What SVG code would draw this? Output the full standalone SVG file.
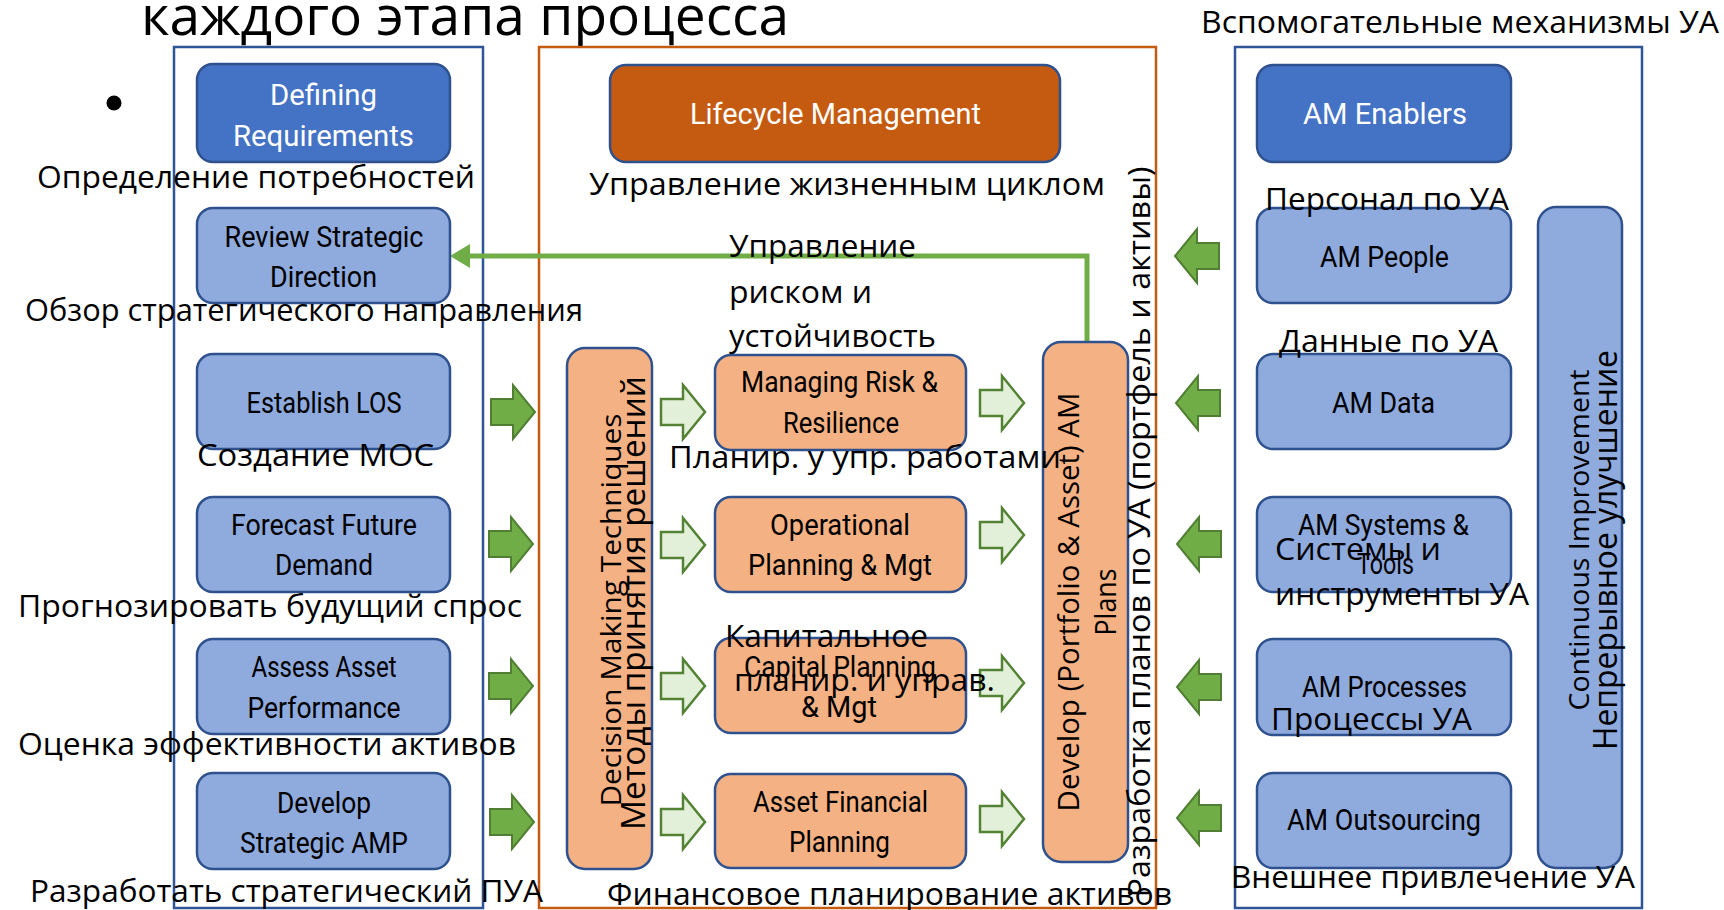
<svg xmlns="http://www.w3.org/2000/svg" xmlns:xlink="http://www.w3.org/1999/xlink" width="1724" height="910" viewBox="0 0 1724 910">
<style>
.bg{fill:#ffffff}
.frame-b{fill:none;stroke:#2F5597;stroke-width:2.5}
.frame-o{fill:none;stroke:#C55A11;stroke-width:2.5}
.bd{fill:#4472C4;stroke:#2F528F;stroke-width:2.5}
.bl{fill:#8FAADC;stroke:#2F528F;stroke-width:2.5}
.bo{fill:#F4B183;stroke:#2F528F;stroke-width:2.5}
.bc{fill:#C55A11;stroke:#2F528F;stroke-width:2.5}
.en{font-family:"Liberation Sans Narrow","Roboto","Liberation Sans",sans-serif;font-size:30px;fill:#000;text-anchor:middle}
.w{fill:#fff}
.ru{font-family:"Open Sans","Noto Sans",sans-serif;font-size:31px;fill:#000}
.title{font-family:"Open Sans","Noto Sans",sans-serif;font-size:54px;fill:#000}
.vt{font-family:"Open Sans","Noto Sans",sans-serif;fill:#000;text-anchor:middle}
.ad{fill:#70AD47;stroke:#507E32;stroke-width:2}
.al{fill:#E2F0D9;stroke:#548235;stroke-width:2.5}
.fb{fill:none;stroke:#70AD47;stroke-width:5}
</style>
<defs>
<path id="ra" d="M0,-13 H22 V-27 L44,0 L22,27 V13 H0 Z"/>
<path id="la" d="M44,-13 H22 V-27 L0,0 L22,27 V13 H44 Z"/>
<marker id="mh" markerUnits="userSpaceOnUse" markerWidth="20" markerHeight="24" viewBox="0 0 20 24" refX="0" refY="12" orient="auto">
<path d="M0,0 L20,12 L0,24 Z" fill="#70AD47"/>
</marker>
</defs>
<rect class="bg" x="0" y="0" width="1724" height="910"/>

<text class="title" x="141" y="35" textLength="648" lengthAdjust="spacingAndGlyphs">каждого этапа процесса</text>
<circle cx="114" cy="103" r="7.5" fill="#000"/>

<g id="frames">
<rect class="frame-b" x="174" y="47" width="309" height="861"/>
<rect class="frame-o" x="539" y="47" width="617" height="861"/>
<rect class="frame-b" x="1235" y="47" width="407" height="861"/>
</g>

<g id="connectors">
<path class="fb" d="M1087,342 V256 H470" marker-end="url(#mh)"/>
<use href="#ra" x="491" y="412" class="ad"/>
<use href="#ra" x="489" y="544" class="ad"/>
<use href="#ra" x="489" y="686" class="ad"/>
<use href="#ra" x="490" y="822" class="ad"/>
<use href="#ra" x="661" y="412" class="al"/>
<use href="#ra" x="661" y="545" class="al"/>
<use href="#ra" x="661" y="686" class="al"/>
<use href="#ra" x="661" y="822" class="al"/>
<use href="#ra" x="980" y="403" class="al"/>
<use href="#ra" x="980" y="535" class="al"/>
<use href="#ra" x="980" y="683" class="al"/>
<use href="#ra" x="980" y="819" class="al"/>
<use href="#la" x="1175" y="256" class="ad"/>
<use href="#la" x="1176" y="403" class="ad"/>
<use href="#la" x="1177" y="544" class="ad"/>
<use href="#la" x="1177" y="687" class="ad"/>
<use href="#la" x="1177" y="818" class="ad"/>
</g>

<g id="n-defining">
<rect class="bd" x="197" y="64" width="253" height="98" rx="16"/>
<text class="en w" x="323.5" y="105" textLength="107" lengthAdjust="spacingAndGlyphs">Defining</text>
<text class="en w" x="323.5" y="146" textLength="181" lengthAdjust="spacingAndGlyphs">Requirements</text>
<text class="ru" x="37" y="188" textLength="438" lengthAdjust="spacingAndGlyphs">Определение потребностей</text>
</g>
<g id="n-review">
<rect class="bl" x="197" y="208" width="253" height="95" rx="16"/>
<text class="en" x="324" y="247" textLength="199" lengthAdjust="spacingAndGlyphs">Review Strategic</text>
<text class="en" x="323.5" y="287" textLength="107" lengthAdjust="spacingAndGlyphs">Direction</text>
<text class="ru" x="25" y="321" textLength="558" lengthAdjust="spacingAndGlyphs">Обзор стратегического направления</text>
</g>
<g id="n-los">
<rect class="bl" x="197" y="354" width="253" height="95" rx="16"/>
<text class="en" x="324" y="413" textLength="155" lengthAdjust="spacingAndGlyphs">Establish LOS</text>
<text class="ru" x="197" y="466" textLength="237" lengthAdjust="spacingAndGlyphs">Создание МОС</text>
</g>
<g id="n-forecast">
<rect class="bl" x="197" y="497" width="253" height="95" rx="16"/>
<text class="en" x="324" y="535" textLength="186" lengthAdjust="spacingAndGlyphs">Forecast Future</text>
<text class="en" x="324" y="575" textLength="98" lengthAdjust="spacingAndGlyphs">Demand</text>
<text class="ru" x="18" y="617" textLength="504" lengthAdjust="spacingAndGlyphs">Прогнозировать будущий спрос</text>
</g>
<g id="n-assess">
<rect class="bl" x="197" y="639" width="253" height="95" rx="16"/>
<text class="en" x="324" y="677" textLength="145" lengthAdjust="spacingAndGlyphs">Assess Asset</text>
<text class="en" x="324" y="718" textLength="153" lengthAdjust="spacingAndGlyphs">Performance</text>
<text class="ru" x="18" y="755" textLength="498" lengthAdjust="spacingAndGlyphs">Оценка эффективности активов</text>
</g>
<g id="n-amp">
<rect class="bl" x="197" y="773" width="253" height="96" rx="16"/>
<text class="en" x="324" y="813" textLength="94" lengthAdjust="spacingAndGlyphs">Develop</text>
<text class="en" x="324" y="853" textLength="168" lengthAdjust="spacingAndGlyphs">Strategic AMP</text>
<text class="ru" x="30" y="902" textLength="513" lengthAdjust="spacingAndGlyphs">Разработать стратегический ПУА</text>
</g>

<g id="n-lifecycle">
<rect class="bc" x="610" y="65" width="450" height="97" rx="16"/>
<text class="en w" x="835.5" y="124" textLength="291" lengthAdjust="spacingAndGlyphs">Lifecycle Management</text>
<text class="ru" x="589" y="195" textLength="516" lengthAdjust="spacingAndGlyphs">Управление жизненным циклом</text>
</g>
<g id="n-decision">
<rect class="bo" x="567" y="348" width="85" height="521" rx="18"/>
<text class="vt" x="621" y="610" font-size="28" transform="rotate(-90 621 610)" textLength="393" lengthAdjust="spacingAndGlyphs">Decision Making Techniques</text>
<text class="vt" x="645" y="603" font-size="33" transform="rotate(-90 645 603)" textLength="454" lengthAdjust="spacingAndGlyphs">Методы принятия решений</text>
</g>
<g id="n-develop-plans">
<rect class="bo" x="1043" y="342" width="85" height="520" rx="18"/>
<text class="vt" x="1079" y="602" font-size="29" transform="rotate(-90 1079 602)" textLength="419" lengthAdjust="spacingAndGlyphs">Develop (Portfolio &amp; Asset) AM</text>
<text class="vt" x="1116" y="602" font-size="29" transform="rotate(-90 1116 602)" textLength="67" lengthAdjust="spacingAndGlyphs">Plans</text>
<text class="vt" x="1150" y="532" font-size="31" transform="rotate(-90 1150 532)" textLength="731" lengthAdjust="spacingAndGlyphs">Разработка планов по УА (портфель и активы)</text>
</g>
<g id="n-risk">
<rect class="bo" x="715" y="355" width="251" height="95" rx="16"/>
<text class="en" x="839.5" y="392" textLength="197" lengthAdjust="spacingAndGlyphs">Managing Risk &amp;</text>
<text class="en" x="841" y="433" textLength="116" lengthAdjust="spacingAndGlyphs">Resilience</text>
<text class="ru" x="729" y="257" textLength="187" lengthAdjust="spacingAndGlyphs">Управление</text>
<text class="ru" x="729" y="303" textLength="143" lengthAdjust="spacingAndGlyphs">риском и</text>
<text class="ru" x="729" y="347" textLength="207" lengthAdjust="spacingAndGlyphs">устойчивость</text>
</g>
<g id="n-operational">
<rect class="bo" x="715" y="497" width="251" height="95" rx="16"/>
<text class="en" x="840" y="535" textLength="140" lengthAdjust="spacingAndGlyphs">Operational</text>
<text class="en" x="840" y="575" textLength="184" lengthAdjust="spacingAndGlyphs">Planning &amp; Mgt</text>
<text class="ru" x="669" y="468" textLength="392" lengthAdjust="spacingAndGlyphs">Планир. у упр. работами</text>
</g>
<g id="n-capital">
<rect class="bo" x="715" y="638" width="251" height="95" rx="16"/>
<text class="en" x="840" y="677" textLength="192" lengthAdjust="spacingAndGlyphs">Capital Planning</text>
<text class="en" x="839" y="717" textLength="76" lengthAdjust="spacingAndGlyphs">&amp; Mgt</text>
<text class="ru" x="725" y="647" textLength="203" lengthAdjust="spacingAndGlyphs">Капитальное</text>
<text class="ru" x="734" y="691" textLength="261" lengthAdjust="spacingAndGlyphs">планир. и управ.</text>
</g>
<g id="n-financial">
<rect class="bo" x="715" y="774" width="251" height="94" rx="16"/>
<text class="en" x="840.5" y="812" textLength="175" lengthAdjust="spacingAndGlyphs">Asset Financial</text>
<text class="en" x="839.5" y="852" textLength="101" lengthAdjust="spacingAndGlyphs">Planning</text>
<text class="ru" x="607" y="905" textLength="565" lengthAdjust="spacingAndGlyphs">Финансовое планирование активов</text>
</g>

<g id="n-enablers">
<rect class="bd" x="1257" y="65" width="254" height="97" rx="16"/>
<text class="en w" x="1385" y="124" textLength="164" lengthAdjust="spacingAndGlyphs">AM Enablers</text>
<text class="ru" x="1201" y="33" textLength="518" lengthAdjust="spacingAndGlyphs">Вспомогательные механизмы УА</text>
</g>
<g id="n-ci">
<rect class="bl" x="1538" y="207" width="84" height="661" rx="18"/>
<text class="vt" x="1589" y="540" font-size="27" transform="rotate(-90 1589 540)" textLength="341" lengthAdjust="spacingAndGlyphs">Continuous Improvement</text>
<text class="vt" x="1617" y="550" font-size="32" transform="rotate(-90 1617 550)" textLength="400" lengthAdjust="spacingAndGlyphs">Непрерывное улучшение</text>
</g>
<g id="n-people">
<rect class="bl" x="1257" y="208" width="254" height="95" rx="16"/>
<text class="en" x="1384.5" y="267" textLength="129" lengthAdjust="spacingAndGlyphs">AM People</text>
<text class="ru" x="1265" y="210" textLength="244" lengthAdjust="spacingAndGlyphs">Персонал по УА</text>
</g>
<g id="n-data">
<rect class="bl" x="1257" y="354" width="254" height="95" rx="16"/>
<text class="en" x="1383.5" y="413" textLength="103" lengthAdjust="spacingAndGlyphs">AM Data</text>
<text class="ru" x="1279" y="352" textLength="219" lengthAdjust="spacingAndGlyphs">Данные по УА</text>
</g>
<g id="n-systems">
<rect class="bl" x="1257" y="497" width="254" height="95" rx="16"/>
<text class="en" x="1383.5" y="535" textLength="171" lengthAdjust="spacingAndGlyphs">AM Systems &amp;</text>
<text class="en" x="1385.5" y="574" textLength="57" lengthAdjust="spacingAndGlyphs">Tools</text>
<text class="ru" x="1275" y="560" textLength="166" lengthAdjust="spacingAndGlyphs">Системы и</text>
<text class="ru" x="1275" y="605" textLength="254" lengthAdjust="spacingAndGlyphs">инструменты УА</text>
</g>
<g id="n-processes">
<rect class="bl" x="1257" y="639" width="254" height="96" rx="16"/>
<text class="en" x="1384.5" y="697" textLength="165" lengthAdjust="spacingAndGlyphs">AM Processes</text>
<text class="ru" x="1271" y="730" textLength="201" lengthAdjust="spacingAndGlyphs">Процессы УА</text>
</g>
<g id="n-outsourcing">
<rect class="bl" x="1257" y="773" width="254" height="95" rx="16"/>
<text class="en" x="1384" y="830" textLength="194" lengthAdjust="spacingAndGlyphs">AM Outsourcing</text>
<text class="ru" x="1231" y="888" textLength="404" lengthAdjust="spacingAndGlyphs">Внешнее привлечение УА</text>
</g>
</svg>
